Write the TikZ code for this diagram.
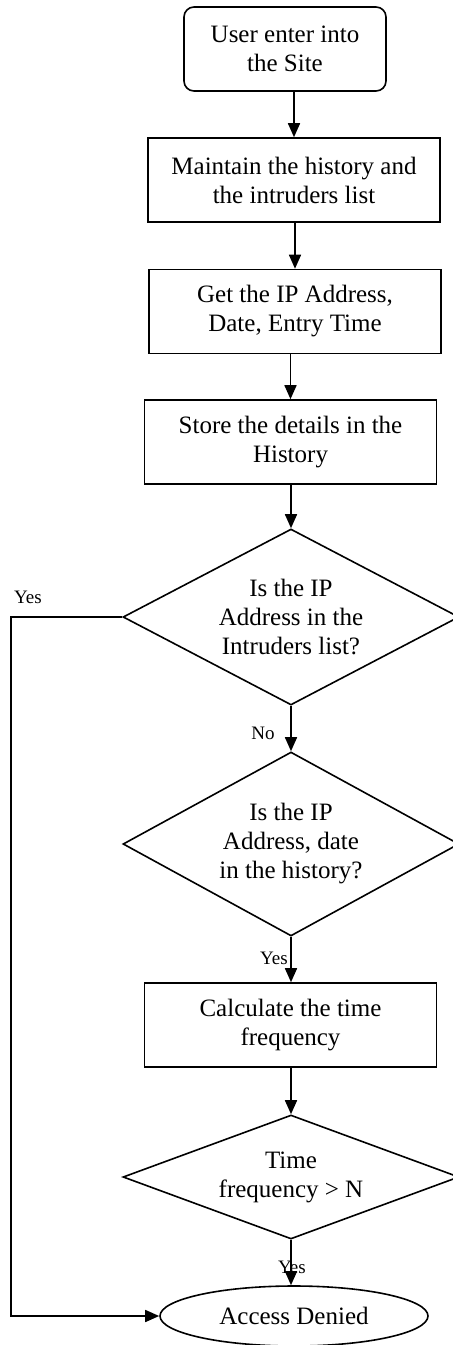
\documentclass[tikz,border=0pt]{standalone}
\usepackage{fontspec}
\setmainfont{Liberation Serif}
\usetikzlibrary{shapes.geometric,arrows.meta}

\begin{document}
\begin{tikzpicture}[x=0.5pt, y=-0.5pt,
  every node/.style={font=\fontsize{12.5}{14.5}\selectfont, align=center},
  startbox/.style={draw, line width=0.8pt, rectangle, rounded corners=5pt, minimum width=101pt, minimum height=42pt, inner sep=0pt},
  procbox/.style={draw, line width=0.8pt, rectangle, minimum width=146pt, minimum height=42pt, inner sep=0pt},
  decision/.style={draw, line width=0.8pt, diamond, minimum width=168pt, inner sep=0pt},
  endbox/.style={draw, line width=0.8pt, ellipse, minimum width=134pt, minimum height=30pt, inner sep=0pt},
  flow/.style={-{Triangle[length=7pt,width=6pt]}, line width=0.8pt},
  tag/.style={font=\fontsize{9.5}{11}\selectfont, inner sep=0pt}]
  \useasboundingbox (0,0) rectangle (453,1345);

  \node[startbox] (enter) at (285,49) {User enter into\\the Site};
  \node[procbox] (maintain) at (294,180) {Maintain the history and\\the intruders list};
  \node[procbox] (getip) at (295,311.5) {Get the IP Address,\\Date, Entry Time};
  \node[procbox] (store) at (290.5,442) {Store the details in the\\History};
  \node[decision, aspect=1.91, minimum height=88pt] (intruder) at (291,617) {Is the IP\\Address in the\\Intruders list?};
  \node[decision, aspect=1.83, minimum height=92pt] (history) at (291,844) {Is the IP\\Address, date\\in the history?};
  \node[procbox] (calc) at (290.5,1025) {Calculate the time\\frequency};
  \node[decision, aspect=2.7, minimum height=62pt] (freq) at (291,1177) {Time\\frequency > N};
  \node[endbox] (denied) at (294,1316) {Access Denied};

  \coordinate (loop) at (11,617);

  \draw[flow] (maintain.north |- enter.south) -- (maintain.north);
  \draw[flow] (maintain.south -| getip.north) -- (getip.north);
  \draw[flow] (getip.south -| store.north) -- (store.north);
  \draw[flow] (store.south -| intruder.north) -- (intruder.north);
  \draw[flow] (intruder.south) -- (history.north);
  \draw[flow] (history.south) -- (calc.north -| history.south);
  \draw[flow] (calc.south -| freq.north) -- (freq.north);
  \draw[flow] (freq.south) -- (denied.north -| freq.south);
  \draw[flow] (intruder.west) -- (loop) |- (denied.west);

  \node[tag] (yes1) at (28,597) {Yes};
  \node[tag] (no1) at (263,733) {No};
  \node[tag] (yes2) at (274,958) {Yes};
  \node[tag] (yes3) at (292,1267) {Yes};
\end{tikzpicture}
\end{document}
